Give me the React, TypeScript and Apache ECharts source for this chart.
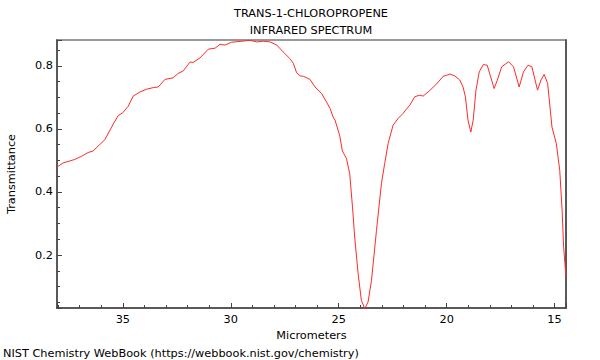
import React, { useEffect, useRef } from "react";
import * as echarts from "echarts";

const titleLines = ["TRANS-1-CHLOROPROPENE", "INFRARED SPECTRUM"];
const xName = "Micrometers";
const yName = "Transmittance";
const footer = "NIST Chemistry WebBook (https://webbook.nist.gov/chemistry)";

const micrometers = [
  38.05, 37.77, 37.23, 36.92, 36.61, 36.38, 35.83, 35.52, 35.22, 35.01,
  34.75, 34.52, 34.21, 33.9, 33.59, 33.36, 33.05, 32.67, 32.44, 32.2,
  31.89, 31.74, 31.43, 31.04, 30.73, 30.5, 30.27, 29.96, 29.5, 29.11,
  28.8, 28.49, 28.18, 27.87, 27.57, 27.26, 27.1, 26.95, 26.78, 26.64,
  26.33, 26.1, 25.79, 25.57, 25.4, 25.26, 25.17, 24.95, 24.83, 24.64,
  24.49, 24.36, 24.26, 24.1, 23.95, 23.79, 23.64, 23.48, 23.25, 23.02,
  22.87, 22.71, 22.48, 22.25, 22.02, 21.86, 21.71, 21.48, 21.25, 21.09,
  20.86, 20.47, 20.16, 20.01, 19.85, 19.62, 19.39, 19.24, 19.13, 19.01,
  18.88, 18.77, 18.64, 18.49, 18.3, 18.12, 17.96, 17.8, 17.65, 17.45,
  17.13, 16.9, 16.64, 16.44, 16.23, 16.05, 15.79, 15.63, 15.48, 15.32,
  15.12, 14.92, 14.76, 14.65, 14.58, 14.47,
];

const transmittance = [
  0.479, 0.492, 0.503, 0.513, 0.525, 0.53, 0.566, 0.606, 0.642, 0.651,
  0.672, 0.704, 0.717, 0.726, 0.731, 0.733, 0.757, 0.762, 0.776, 0.784,
  0.812, 0.811, 0.825, 0.853, 0.856, 0.868, 0.866, 0.875, 0.878, 0.881,
  0.876, 0.878, 0.876, 0.866, 0.844, 0.823, 0.808, 0.778, 0.768, 0.767,
  0.757, 0.733, 0.712, 0.686, 0.665, 0.638, 0.628, 0.578, 0.53, 0.506,
  0.458, 0.352, 0.257, 0.141, 0.056, 0.03, 0.051, 0.12, 0.278, 0.427,
  0.49, 0.554, 0.612, 0.633, 0.649, 0.663, 0.675, 0.702, 0.707, 0.704,
  0.717, 0.742, 0.767, 0.77, 0.774, 0.768, 0.755, 0.733, 0.702, 0.628,
  0.59, 0.628, 0.723, 0.781, 0.804, 0.802, 0.765, 0.728, 0.755, 0.797,
  0.813, 0.797, 0.733, 0.781, 0.802, 0.797, 0.723, 0.755, 0.773, 0.744,
  0.606, 0.554, 0.469, 0.342, 0.225, 0.13,
];

const xMin = 14.47;
const xMax = 38.05;
const yMin = 0.032;
const yMax = 0.882;

const FONT = "DejaVu Sans";
const FS = 11.3;

export default function App() {
  const ref = useRef<HTMLDivElement>(null);

  useEffect(() => {
    if (!ref.current) return;
    const chart = echarts.init(ref.current, undefined, { renderer: "svg" });
    const data = micrometers.map((m, i) => [m, transmittance[i]]);
    chart.setOption({
      animation: false,
      backgroundColor: "#ffffff",
      textStyle: { fontFamily: FONT },
      grid: {
        left: 57,
        right: 34,
        top: 40,
        bottom: 52,
        show: true,
        borderColor: "#999999",
        borderWidth: 2,
        containLabel: false,
        outerBoundsMode: "none",
      },
      graphic: [
        {
          type: "text",
          x: 311,
          y: 13,
          style: {
            text: titleLines[0],
            font: `${FS}px "${FONT}"`,
            fill: "#000",
            align: "center",
            verticalAlign: "middle",
          },
        },
        {
          type: "text",
          x: 311,
          y: 30,
          style: {
            text: titleLines[1],
            font: `${FS}px "${FONT}"`,
            fill: "#000",
            align: "center",
            verticalAlign: "middle",
          },
        },
        {
          type: "text",
          x: 3,
          y: 353,
          style: {
            text: footer,
            font: `${FS}px "${FONT}"`,
            fill: "#000",
            align: "left",
            verticalAlign: "middle",
          },
        },
      ],
      xAxis: {
        type: "value",
        inverse: true,
        min: xMin,
        max: xMax,
        name: xName,
        nameLocation: "middle",
        nameGap: 20,
        nameTextStyle: { fontFamily: FONT, fontSize: FS, color: "#000" },
        axisLine: { show: true, lineStyle: { color: "#444", width: 1.5 } },
        axisTick: { show: true, inside: true, length: 5, lineStyle: { color: "#444" } },
        minorTick: { show: true, splitNumber: 5, length: 3, lineStyle: { color: "#444" } },
        axisLabel: {
          showMinLabel: false,
          showMaxLabel: false,
          color: "#000",
          fontFamily: FONT,
          fontSize: FS,
          margin: 6,
        },
        splitLine: { show: false },
      },
      yAxis: [
        {
          type: "value",
          min: yMin,
          max: yMax,
          name: yName,
          nameLocation: "middle",
          nameGap: 40,
          nameTextStyle: { fontFamily: FONT, fontSize: FS, color: "#000" },
          axisLine: { show: true, lineStyle: { color: "#444", width: 1.5 } },
          axisTick: { show: true, inside: true, length: 5, lineStyle: { color: "#444" } },
          minorTick: { show: true, splitNumber: 4, length: 3, lineStyle: { color: "#444" } },
          axisLabel: {
            showMinLabel: false,
            showMaxLabel: false,
            color: "#000",
            fontFamily: FONT,
            fontSize: FS,
            margin: 4,
          },
          splitLine: { show: false },
        },
        {
          type: "value",
          position: "right",
          min: yMin,
          max: yMax,
          axisLine: { show: true, lineStyle: { color: "#444", width: 1.5 } },
          axisTick: { show: false },
          axisLabel: { show: false },
          splitLine: { show: false },
        },
      ],
      series: [
        {
          type: "line",
          data,
          yAxisIndex: 0,
          showSymbol: false,
          symbol: "none",
          clip: true,
          lineStyle: { color: "#ff2a2a", width: 1 },
        },
      ],
    });
    return () => chart.dispose();
  }, []);

  return (
    <div
      ref={ref}
      style={{ position: "absolute", left: 0, top: 0, width: 600, height: 360 }}
    />
  );
}
